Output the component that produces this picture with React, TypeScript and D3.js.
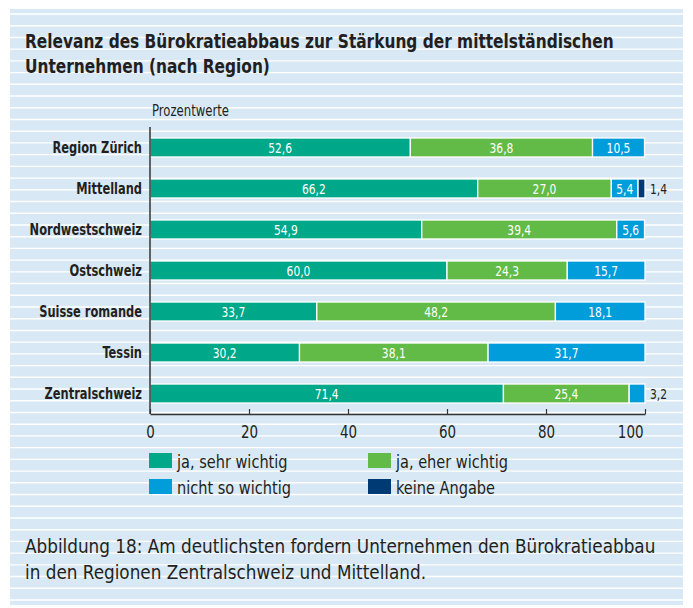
import React, { useRef, useEffect } from "react";
import * as d3 from "d3";

const width = 693;
const height = 608;
const margin = { top: 127, left: 150, bottom: 194, right: 48 };
const iwidth = width - margin.left - margin.right;
const iheight = height - margin.top - margin.bottom;

const regions = [
  "Region Zürich",
  "Mittelland",
  "Nordwestschweiz",
  "Ostschweiz",
  "Suisse romande",
  "Tessin",
  "Zentralschweiz",
];
const sehrWichtig = [52.6, 66.2, 54.9, 60.0, 33.7, 30.2, 71.4];
const eherWichtig = [36.8, 27.0, 39.4, 24.3, 48.2, 38.1, 25.4];
const nichtSoWichtig = [10.5, 5.4, 5.6, 15.7, 18.1, 31.7, 3.2];
const keineAngabe = [0, 1.4, 0, 0, 0, 0, 0];

const seriesKeys = ["sehr", "eher", "nicht", "keine"];
const seriesLabels = ["ja, sehr wichtig", "ja, eher wichtig", "nicht so wichtig", "keine Angabe"];
const colors = ["#00a88a", "#62bb47", "#009ddb", "#003a74"];
const xTicks = [0, 20, 40, 60, 80, 100];

const font = "'Liberation Sans Narrow', 'DejaVu Sans Condensed', 'Roboto Condensed', sans-serif";
const ink = "#231f20";

// squeeze text horizontally, the reference uses a narrow typeface
const condense = (sel, factor) => {
  sel.each(function () {
    const len = this.getComputedTextLength();
    d3.select(this).attr("textLength", len * factor).attr("lengthAdjust", "spacingAndGlyphs");
  });
};

const App = () => {
  const ref = useRef(null);

  useEffect(() => {
    document.body.style.margin = "0";
    const svg = d3.select(ref.current);
    svg.selectAll("*").remove();
    draw(svg);
  }, []);

  const draw = (svg) => {
    svg.attr("width", width).attr("height", height).style("font-family", font);

    // background panel with white rules
    svg.append("rect").attr("x", 10).attr("y", 9).attr("width", 673).attr("height", 596).attr("fill", "#d8e9f5");
    svg
      .append("g")
      .selectAll("line")
      .data(d3.range(0, 51))
      .enter()
      .append("line")
      .attr("x1", 10)
      .attr("x2", 683)
      .attr("y1", (d) => 14 + d * 11.72)
      .attr("y2", (d) => 14 + d * 11.72)
      .attr("stroke", "#fff")
      .attr("stroke-width", 1.4);

    // title
    const title = svg.append("text").attr("fill", ink).attr("font-weight", "bold").attr("font-size", 19);
    title.append("tspan").attr("x", 25).attr("y", 48).text("Relevanz des Bürokratieabbaus zur Stärkung der mittelständischen");
    title.append("tspan").attr("x", 25).attr("y", 73).text("Unternehmen (nach Region)");
    condense(title.selectAll("tspan"), 0.9);

    const unit = svg.append("text").attr("x", 152).attr("y", 116).attr("font-size", 15).attr("fill", ink).text("Prozentwerte");
    condense(unit, 0.865);

    const rows = regions.map((r, i) => ({
      region: r,
      sehr: sehrWichtig[i],
      eher: eherWichtig[i],
      nicht: nichtSoWichtig[i],
      keine: keineAngabe[i],
    }));
    const stacked = d3.stack().keys(seriesKeys)(rows);

    const x = d3.scaleLinear().domain([0, 100]).range([0, iwidth]);
    const y = d3.scaleBand().domain(regions).range([0, iheight]).paddingInner(0.537).paddingOuter(0.268);

    const g = svg.append("g").attr("transform", `translate(${margin.left},${margin.top})`);
    const fmt = (v) => d3.format(".1f")(v).replace(".", ",");

    stacked.forEach((layer, li) => {
      const lg = g.append("g");
      const items = layer.filter((d) => d[1] - d[0] > 0);
      lg.selectAll("rect")
        .data(items)
        .enter()
        .append("rect")
        .attr("x", (d) => x(d[0]))
        .attr("y", (d) => y(d.data.region))
        .attr("width", (d) => x(d[1]) - x(d[0]))
        .attr("height", y.bandwidth())
        .attr("fill", colors[li])
        .attr("stroke", "#fff")
        .attr("stroke-width", 1.3);
      const labels = lg
        .selectAll("text")
        .data(items)
        .enter()
        .append("text")
        .attr("x", (d) => (d[1] - d[0] < 4 ? x(d[1]) + 5 : x((d[0] + d[1]) / 2)))
        .attr("y", (d) => y(d.data.region) + y.bandwidth() / 2)
        .attr("dy", "0.36em")
        .attr("text-anchor", (d) => (d[1] - d[0] < 4 ? "start" : "middle"))
        .attr("font-size", 14)
        .attr("fill", (d) => (d[1] - d[0] < 4 ? ink : "#fff"))
        .text((d) => fmt(d[1] - d[0]));
      condense(labels, 0.85);
    });

    // category labels
    const cats = g
      .append("g")
      .selectAll("text")
      .data(regions)
      .enter()
      .append("text")
      .attr("x", -8)
      .attr("y", (d) => y(d) + y.bandwidth() / 2)
      .attr("dy", "0.36em")
      .attr("text-anchor", "end")
      .attr("font-weight", "bold")
      .attr("font-size", 16.5)
      .attr("fill", ink)
      .text((d) => d);
    condense(cats, 0.77);

    // axes
    const xAxis = g
      .append("g")
      .attr("transform", `translate(0, ${iheight})`)
      .call(d3.axisBottom(x).tickValues(xTicks).tickSizeInner(-5).tickSizeOuter(0).tickPadding(12));
    xAxis.select(".domain").attr("stroke", "#333").attr("stroke-width", 1.5);
    xAxis.selectAll(".tick line").attr("stroke", "#333").attr("stroke-width", 1.2);
    const tickText = xAxis
      .selectAll(".tick text")
      .attr("font-family", font)
      .attr("font-size", 17)
      .attr("fill", ink);
    tickText.filter((d) => d === 100).attr("text-anchor", "end").attr("x", -2);
    condense(tickText, 0.88);

    g.append("line")
      .attr("x1", 0)
      .attr("x2", 0)
      .attr("y1", 0)
      .attr("y2", iheight)
      .attr("stroke", "#333")
      .attr("stroke-width", 1.5);

    // legend
    const legend = svg.append("g");
    seriesLabels.forEach((label, i) => {
      const lx = i % 2 === 0 ? 149 : 368;
      const ly = i < 2 ? 453 : 479;
      legend.append("rect").attr("x", lx).attr("y", ly).attr("width", 23).attr("height", 15).attr("fill", colors[i]);
      const t = legend
        .append("text")
        .attr("x", lx + 28)
        .attr("y", ly + 15)
        .attr("font-size", 17)
        .attr("fill", ink)
        .text(label);
      condense(t, 0.95);
    });

    // caption
    const cap = svg.append("text").attr("fill", ink).attr("font-size", 19);
    cap.append("tspan").attr("x", 25).attr("y", 553).text("Abbildung 18: Am deutlichsten fordern Unternehmen den Bürokratieabbau");
    cap.append("tspan").attr("x", 25).attr("y", 579).text("in den Regionen Zentralschweiz und Mittelland.");
    condense(cap.selectAll("tspan"), 0.985);
  };

  return (
    <div id="chart">
      <svg ref={ref}></svg>
    </div>
  );
};
export default App;
